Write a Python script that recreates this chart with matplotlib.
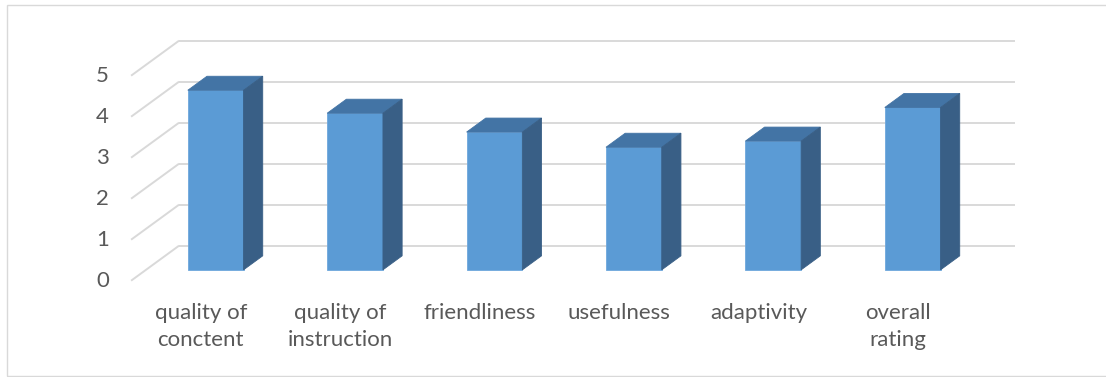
import matplotlib
matplotlib.use("Agg")
import matplotlib.pyplot as plt
from matplotlib.patches import Polygon, Rectangle

categories = ["quality of\nconctent", "quality of\ninstruction", "friendliness",
              "usefulness", "adaptivity", "overall\nrating"]
ratings = [4.38, 3.82, 3.36, 2.99, 3.14, 3.96]
y_ticks = [0, 1, 2, 3, 4, 5]

# oblique 3d look: offset of the back wall, in (category, value) units
DEPTH_X = 0.344
DEPTH_Y = 0.854
BAR_FRONT = 0.31
BAR_BACK = 0.71
BAR_W = 0.40

FRONT_C = "#5B9BD5"
TOP_C = "#4374A5"
SIDE_C = "#395F86"
GRID_C = "#D9D9D9"
TEXT_C = "#595959"

plt.rcParams["font.family"] = ["Lato", "DejaVu Sans"]

fig = plt.figure(figsize=(11.06, 3.77), dpi=100)
ax = fig.add_axes([0, 0, 1, 1])
ax.set_xlim(-1.4405, 6.4935)
ax.set_ylim(-2.349, 6.846)
ax.axis("off")

left = -0.5
right = len(categories) - 0.5

# walls
for v in y_ticks:
    ax.plot([left, left + DEPTH_X], [v, v + DEPTH_Y], color=GRID_C, lw=1.4,
            solid_capstyle="butt", zorder=1)
    ax.plot([left + DEPTH_X, right + DEPTH_X], [v + DEPTH_Y, v + DEPTH_Y],
            color=GRID_C, lw=1.4, solid_capstyle="butt", zorder=1)
    ax.text(left - 0.158, v, str(v), ha="right", va="center",
            fontsize=16, color=TEXT_C)

# bars
dbx = (BAR_BACK - BAR_FRONT) * DEPTH_X
dby = (BAR_BACK - BAR_FRONT) * DEPTH_Y
for i, val in enumerate(ratings):
    fx = i + BAR_FRONT * DEPTH_X
    fy = BAR_FRONT * DEPTH_Y
    x0, x1 = fx - BAR_W / 2, fx + BAR_W / 2
    ax.add_patch(Rectangle((x0, fy), BAR_W, val, facecolor=FRONT_C,
                           edgecolor="#6FA8DC", lw=0.6, zorder=3))
    ax.add_patch(Polygon([(x0, fy + val), (x1, fy + val),
                          (x1 + dbx, fy + val + dby), (x0 + dbx, fy + val + dby)],
                         closed=True, facecolor=TOP_C, edgecolor=TOP_C,
                         lw=0.6, zorder=3))
    ax.add_patch(Polygon([(x1, fy), (x1 + dbx, fy + dby),
                          (x1 + dbx, fy + val + dby), (x1, fy + val)],
                         closed=True, facecolor=SIDE_C, edgecolor=SIDE_C,
                         lw=0.6, zorder=3))

for i, name in enumerate(categories):
    ax.text(i, -0.55, name, ha="center", va="top", fontsize=16,
            color=TEXT_C, linespacing=1.42)

# chart border
fig.patches.append(Rectangle((7 / 1106, 1 / 377), 1.2, 371 / 377,
                             transform=fig.transFigure, fill=False,
                             edgecolor=GRID_C, lw=1.0))

fig.savefig("out.png", dpi=100)
